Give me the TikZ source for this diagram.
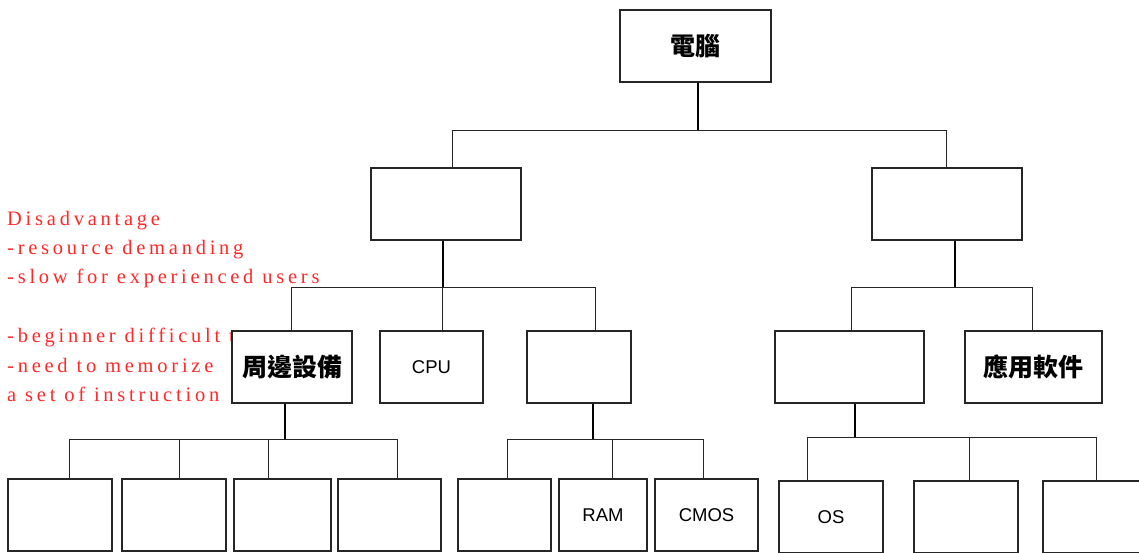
\documentclass[tikz,border=0pt]{standalone}
\usepackage{fontspec}
\usetikzlibrary{backgrounds}
\setmainfont{Liberation Sans}
\newfontfamily\cjk{Noto Sans CJK TC}
\newfontfamily\redfont[LetterSpace=18.3]{Liberation Serif}
\definecolor{redtxt}{RGB}{255,40,40}
\begin{document}
\begin{tikzpicture}[x=1pt,y=-1pt,
  box/.style={draw=black!85, line width=1.1pt, fill=white, inner sep=0pt, minimum height=72pt, font=\fontsize{18.5}{20}\selectfont},
  conn/.style={line width=1pt, draw=black!85},
  trunk/.style={line width=1.8pt, draw=black},
  zh/.style={font=\cjk\bfseries\fontsize{25}{27}\selectfont},
  redline/.style={anchor=base west, inner sep=0pt, text=redtxt, font=\redfont\fontsize{20.5}{22}\selectfont}]
\useasboundingbox (0,0) rectangle (1139,552);
\clip (0,0) rectangle (1139,552);

% nodes
\node[box, minimum width=151pt, zh] (root) at (695.5,46) {電腦};
\node[box, minimum width=150pt] (l2a) at (446,204) {};
\node[box, minimum width=150pt] (l2b) at (947,204) {};
\node[box, minimum width=120pt, zh] (per) at (292,367) {周邊設備};
\node[box, minimum width=103pt] (cpu) at (431.5,367) {CPU};
\node[box, minimum width=104pt] (m3) at (579,367) {};
\node[box, minimum width=149pt] (sw) at (849.5,367) {};
\node[box, minimum width=137pt, zh] (app) at (1033.5,367) {應用軟件};
\node[box, minimum width=104pt] (p1) at (60,515) {};
\node[box, minimum width=104pt] (p2) at (174,515) {};
\node[box, minimum width=97pt] (p3) at (282.5,515) {};
\node[box, minimum width=103pt] (p4) at (389.5,515) {};
\node[box, minimum width=93pt] (m1) at (504.5,515) {};
\node[box, minimum width=88pt] (ram) at (603,515) {RAM};
\node[box, minimum width=103pt] (cmos) at (706.5,515) {CMOS};
\node[box, minimum width=104pt] (os) at (831,517) {OS};
\node[box, minimum width=104pt] (s2) at (966,517) {};
\node[box, minimum width=104pt] (s3) at (1095,517) {};

\begin{scope}[on background layer]
% red annotation text (lies underneath)
\node[redline] (t1) at (7,225) {Disadvantage};
\node[redline] (t2) at (7,254.4) {-resource demanding};
\node[redline] (t3) at (7,283.8) {-slow for experienced users};
\node[redline] (t4) at (7,342.6) {-beginner difficult to start};
\node[redline] (t5) at (7,372) {-need to memorize};
\node[redline] (t6) at (7,401.4) {a set of instruction};

% bus junctions
\coordinate (r1) at (698,130);
\coordinate (a1) at (443,287);
\coordinate (b1) at (955,287);
\coordinate (c1) at (285,439);
\coordinate (d1) at (593,439);
\coordinate (e1) at (855,437);

% level 1 -> 2
\draw[trunk] (root.south -| r1) -- (r1);
\draw[conn] (l2a.north -| 452,0) -- (452,130) -- (946,130) -- (l2b.north -| 946,0);
% l2a -> level 3
\draw[trunk] (l2a.south -| a1) -- (a1);
\draw[conn] (per.north -| 291,0) -- (291,287) -- (595,287) -- (m3.north -| 595,0);
\draw[conn] (cpu.north -| 442,0) -- (442,287);
% l2b -> level 3
\draw[trunk] (l2b.south -| b1) -- (b1);
\draw[conn] (sw.north -| 851,0) -- (851,287) -- (1032,287) -- (app.north -| 1032,0);
% per -> level 4
\draw[trunk] (per.south -| c1) -- (c1);
\draw[conn] (p1.north -| 69,0) -- (69,439) -- (397,439) -- (p4.north -| 397,0);
\draw[conn] (p2.north -| 179,0) -- (179,439);
\draw[conn] (p3.north -| 268,0) -- (268,439);
% m3 -> level 4
\draw[trunk] (m3.south -| d1) -- (d1);
\draw[conn] (m1.north -| 507,0) -- (507,439) -- (703,439) -- (cmos.north -| 703,0);
\draw[conn] (ram.north -| 612,0) -- (612,439);
% sw -> level 4
\draw[trunk] (sw.south -| e1) -- (e1);
\draw[conn] (os.north -| 807,0) -- (807,437) -- (1096,437) -- (s3.north -| 1096,0);
\draw[conn] (s2.north -| 969,0) -- (969,437);
\end{scope}
\end{tikzpicture}
\end{document}
